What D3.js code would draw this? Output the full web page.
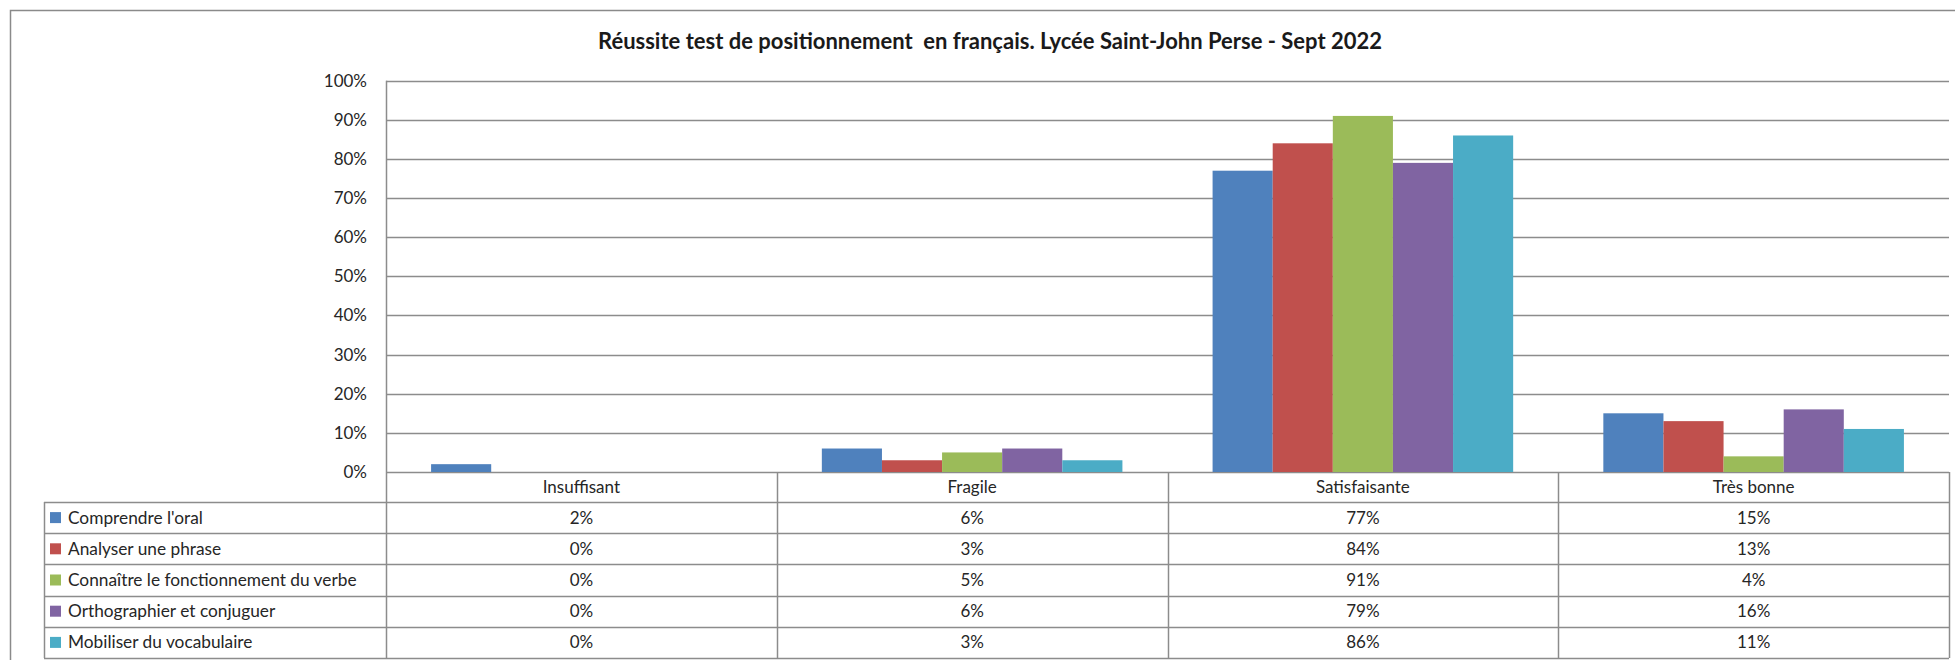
<!DOCTYPE html>
<html>
<head>
<meta charset="utf-8">
<script src="https://cdn.jsdelivr.net/npm/d3@7"></script>
<style>
  html, body { margin: 0; padding: 0; background: #fff; }
  svg { display: block; }
  text { font-family: Lato, "Open Sans", sans-serif; fill: #262626; }
</style>
</head>
<body>
<svg id="chart" width="1955" height="660"></svg>
<script>
// ---- data ----
const title = "Réussite test de positionnement  en français. Lycée Saint-John Perse - Sept 2022";
const categories = ["Insuffisant", "Fragile", "Satisfaisante", "Très bonne"];
const seriesNames = [
  "Comprendre l'oral",
  "Analyser une phrase",
  "Connaître le fonctionnement du verbe",
  "Orthographier et conjuguer",
  "Mobiliser du vocabulaire"
];
const comprendre    = [0.02, 0.06, 0.77, 0.15];
const analyser      = [0.00, 0.03, 0.84, 0.13];
const connaitre     = [0.00, 0.05, 0.91, 0.04];
const orthographier = [0.00, 0.06, 0.79, 0.16];
const mobiliser     = [0.00, 0.03, 0.86, 0.11];
const seriesColors = ["#4F81BD", "#C0504D", "#9BBB59", "#8064A2", "#4BACC6"];
const yTicks = [0, 0.1, 0.2, 0.3, 0.4, 0.5, 0.6, 0.7, 0.8, 0.9, 1.0];

const seriesValues = [comprendre, analyser, connaitre, orthographier, mobiliser];

// ---- layout ----
const svg = d3.select("#chart");
const plotLeft = 386, plotRight = 1949, plotTop = 80.7, plotBottom = 472;
const tableLeft = 44, headerBottom = 502, tableBottom = 658;
const gridColor = "#8c8c8c";

const x = d3.scaleBand().domain(categories).range([plotLeft, plotRight]).paddingInner(0).paddingOuter(0);
const xs = d3.scaleBand().domain(seriesNames).range([0, x.bandwidth()]).paddingInner(0).paddingOuter(0.75);
const y = d3.scaleLinear().domain([0, 1]).range([plotBottom, plotTop]);
const rowY = d3.scaleBand().domain(seriesNames).range([headerBottom, tableBottom]);
const color = d3.scaleOrdinal().domain(seriesNames).range(seriesColors);
const fmt = d3.format(".0%");

// outer chart border (extends past the cropped edges)
svg.append("rect")
  .attr("x", 10.5).attr("y", 10.5)
  .attr("width", 1960).attr("height", 670)
  .attr("fill", "none").attr("stroke", "#8a8a8a").attr("stroke-width", 1.5);

// title
svg.append("text")
  .attr("x", 990).attr("y", 49)
  .attr("text-anchor", "middle")
  .attr("font-size", 22).attr("font-weight", 700)
  .style("fill", "#1a1a1a")
  .style("white-space", "pre")
  .text(title);

// gridlines
svg.append("g").selectAll("line").data(yTicks).join("line")
  .attr("x1", plotLeft).attr("x2", plotRight)
  .attr("y1", d => Math.round(y(d)) + 0.5).attr("y2", d => Math.round(y(d)) + 0.5)
  .attr("stroke", gridColor).attr("stroke-width", 1.5);

// y axis labels
const yAxis = d3.axisLeft(y).tickValues(yTicks).tickFormat(fmt).tickSize(0).tickPadding(19);
const yg = svg.append("g").attr("transform", `translate(${plotLeft},0)`).call(yAxis);
yg.select(".domain").remove();
yg.selectAll("text").attr("font-size", 17).style("font-family", "Lato, sans-serif").style("fill", "#262626");

// bars
const groups = svg.append("g").selectAll("g").data(seriesNames).join("g")
  .attr("fill", d => color(d));
groups.each(function(name, si) {
  d3.select(this).selectAll("rect").data(categories.map((c, ci) => ({c, v: seriesValues[si][ci]})))
    .join("rect")
    .attr("x", d => x(d.c) + xs(name))
    .attr("width", xs.bandwidth())
    .attr("y", d => y(d.v))
    .attr("height", d => y(0) - y(d.v));
});

// ---- data table ----
const tg = svg.append("g");
const vlines = categories.map(c => x(c)).concat([plotRight]);
tg.selectAll("line.v").data(vlines).join("line").attr("class", "v")
  .attr("x1", d => Math.round(d) + 0.5).attr("x2", d => Math.round(d) + 0.5)
  .attr("y1", (d, i) => i === 0 ? plotTop : plotBottom)
  .attr("y2", tableBottom)
  .attr("stroke", gridColor).attr("stroke-width", 1.5);
tg.append("line")
  .attr("x1", tableLeft + 0.5).attr("x2", tableLeft + 0.5)
  .attr("y1", headerBottom).attr("y2", tableBottom)
  .attr("stroke", gridColor).attr("stroke-width", 1.5);
const hlines = seriesNames.map(s => rowY(s)).concat([tableBottom]);
tg.selectAll("line.h").data(hlines).join("line").attr("class", "h")
  .attr("x1", tableLeft).attr("x2", plotRight)
  .attr("y1", d => Math.round(d) + 0.5).attr("y2", d => Math.round(d) + 0.5)
  .attr("stroke", gridColor).attr("stroke-width", 1.5);

// header labels
tg.selectAll("text.cat").data(categories).join("text").attr("class", "cat")
  .attr("x", d => x(d) + x.bandwidth() / 2)
  .attr("y", (plotBottom + headerBottom) / 2)
  .attr("dy", "0.35em")
  .attr("text-anchor", "middle")
  .attr("font-size", 17)
  .text(d => d);

// legend keys and names
const rows = tg.selectAll("g.row").data(seriesNames).join("g").attr("class", "row")
  .attr("transform", d => `translate(0,${rowY(d) + rowY.bandwidth() / 2})`);
rows.append("rect")
  .attr("x", 50).attr("y", -5.5).attr("width", 11).attr("height", 11)
  .attr("fill", d => color(d));
rows.append("text")
  .attr("x", 68).attr("dy", "0.35em")
  .attr("font-size", 17.3)
  .text(d => d);
rows.each(function(name, si) {
  d3.select(this).selectAll("text.val").data(categories.map((c, ci) => ({c, v: seriesValues[si][ci]})))
    .join("text").attr("class", "val")
    .attr("x", d => x(d.c) + x.bandwidth() / 2)
    .attr("dy", "0.35em")
    .attr("text-anchor", "middle")
    .attr("font-size", 17)
    .text(d => fmt(d.v));
});
</script>
</body>
</html>
